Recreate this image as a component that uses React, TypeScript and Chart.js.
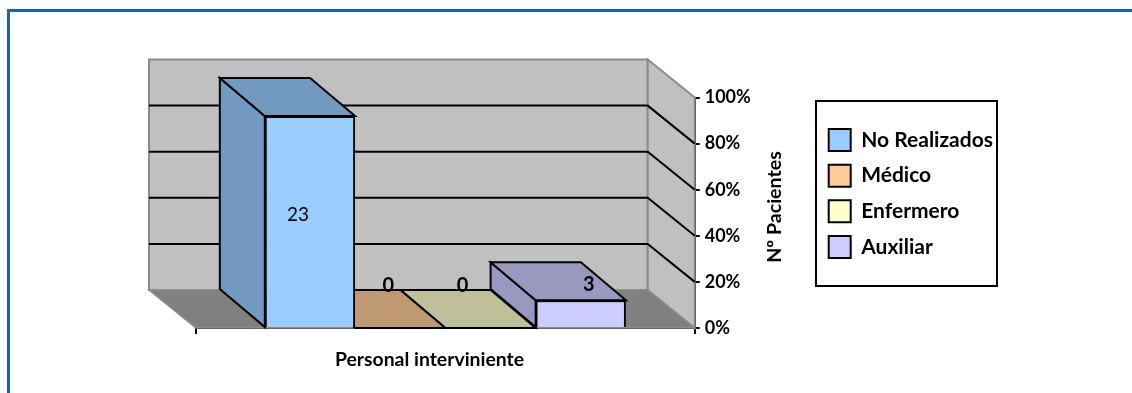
import React, { useEffect, useRef } from "react";
import { Chart, registerables } from "chart.js";

Chart.register(...registerables);

const categories = ["Personal interviniente"];
const seriesNames = ["No Realizados", "Médico", "Enfermero", "Auxiliar"];
const seriesValues = [23, 0, 0, 3];
const frontColors = ["#99CCFF", "#FFCC99", "#FFFFCC", "#CCCCFF"];
const shadeColors = ["#7299BF", "#BF9972", "#BFBF99", "#9999BF"];
const percentTicks = ["0%", "20%", "40%", "60%", "80%", "100%"];
const valueAxisTitle = "Nº Pacientes";

const FONT = "Lato, Carlito, sans-serif";

// Projection of the 3D box: how far the back plane sits from the front plane.
const WALL_DX = 47;
const WALL_DY = 38;
const BAR_DX = 45;

const poly = (
  ctx: CanvasRenderingContext2D,
  pts: number[][],
  fill: string | null,
  stroke: string | null,
  width = 2
) => {
  ctx.beginPath();
  pts.forEach(([x, y], i) => (i ? ctx.lineTo(x, y) : ctx.moveTo(x, y)));
  ctx.closePath();
  if (fill) {
    ctx.fillStyle = fill;
    ctx.fill();
  }
  if (stroke) {
    ctx.strokeStyle = stroke;
    ctx.lineWidth = width;
    ctx.lineJoin = "miter";
    ctx.stroke();
  }
};

// Back wall, side wall, floor and their gridlines, behind everything else.
const wallsPlugin = {
  id: "walls",
  beforeDatasetsDraw(chart: any) {
    const { ctx, chartArea: a, scales } = chart;
    const y = scales.y;
    const { left: l, right: r, top: t, bottom: b } = a;
    const dx = WALL_DX;
    const dy = WALL_DY;
    ctx.save();
    poly(ctx, [[l - dx, t - dy], [r - dx, t - dy], [r - dx, b - dy], [l - dx, b - dy]], "#C0C0C0", "#8C8C8C", 2);
    poly(ctx, [[r - dx, t - dy], [r, t], [r, b], [r - dx, b - dy]], "#C0C0C0", "#8C8C8C", 2);
    poly(ctx, [[l - dx, b - dy], [r - dx, b - dy], [r, b], [l, b]], "#808080", "#8C8C8C", 1.5);
    ctx.strokeStyle = "#000000";
    ctx.lineWidth = 2;
    y.ticks.forEach((tick: any) => {
      if (tick.value === y.min || tick.value === y.max) return;
      const p = y.getPixelForValue(tick.value);
      ctx.beginPath();
      ctx.moveTo(l - dx, p - dy);
      ctx.lineTo(r - dx, p - dy);
      ctx.lineTo(r, p);
      ctx.stroke();
    });
    ctx.restore();
  },
};

// Top and left faces of each bar, painted just before its front face.
const barFacesPlugin = {
  id: "barFaces",
  beforeDatasetDraw(chart: any, args: any) {
    const { ctx } = chart;
    const i = args.index;
    const bar = args.meta.data[0];
    const half = bar.width / 2;
    const x0 = bar.x - half;
    const x1 = bar.x + half;
    const top = bar.y;
    const base = bar.base;
    const dx = BAR_DX;
    const dy = WALL_DY;
    ctx.save();
    if (base - top > 0.5) {
      poly(ctx, [[x0 - dx, top - dy], [x0, top], [x0, base], [x0 - dx, base - dy]], shadeColors[i], "#000000");
    }
    poly(ctx, [[x0 - dx, top - dy], [x1 - dx, top - dy], [x1, top], [x0, top]], shadeColors[i], "#000000");
    ctx.restore();
  },
};

// Value labels, axis titles and the frame around the legend.
const labelShift = [
  { dx: -12, dy: -7, weight: "400", size: 19 },
  { dx: -12, dy: -42, weight: "700", size: 20 },
  { dx: -28, dy: -42, weight: "700", size: 20 },
  { dx: 8, dy: -29, weight: "700", size: 20 },
];

const annotationsPlugin = {
  id: "annotations",
  afterLayout(chart: any) {
    const legend = chart.legend;
    legend.left = 815;
    legend.right = 1000;
    legend.top = 101;
    legend.bottom = 286;
  },
  afterDatasetsDraw(chart: any) {
    const { ctx } = chart;
    ctx.save();
    ctx.fillStyle = "#000000";
    ctx.textAlign = "center";
    ctx.textBaseline = "middle";
    seriesValues.forEach((v, i) => {
      const bar = chart.getDatasetMeta(i).data[0];
      const s = labelShift[i];
      ctx.font = `${s.weight} ${s.size}px ${FONT}`;
      ctx.fillText(String(v), bar.x + s.dx, (bar.y + bar.base) / 2 + s.dy);
    });

    ctx.font = `700 19.4px ${FONT}`;
    ctx.fillText(categories[0], 429.5, 360);
    ctx.translate(775, 207);
    ctx.rotate(-Math.PI / 2);
    ctx.font = `700 19.6px ${FONT}`;
    ctx.fillText(valueAxisTitle, 0, 0);
    ctx.setTransform(1, 0, 0, 1, 0, 0);

    ctx.strokeStyle = "#000000";
    ctx.lineWidth = 2;
    ctx.strokeRect(816, 101, 181, 185);
    ctx.restore();
  },
};

export default function App() {
  const ref = useRef<HTMLCanvasElement>(null);

  useEffect(() => {
    const chart = new Chart(ref.current as HTMLCanvasElement, {
      type: "bar",
      data: {
        labels: categories,
        datasets: seriesNames.map((name, i) => ({
          label: name,
          data: [seriesValues[i]],
          backgroundColor: frontColors[i],
          borderColor: "#000000",
          borderWidth: 2,
          categoryPercentage: 0.724,
          barPercentage: 1,
        })),
      },
      options: {
        responsive: false,
        animation: false,
        layout: { padding: { left: 196, top: 97.5, right: 189.6, bottom: 59 } },
        plugins: {
          tooltip: { enabled: false },
          legend: {
            position: "right",
            align: "center",
            labels: {
              color: "#000000",
              boxWidth: 22,
              boxHeight: 22,
              padding: 13.7,
              font: { family: FONT, size: 21, weight: "700" },
            },
          },
        },
        scales: {
          x: {
            grid: { drawOnChartArea: false, drawTicks: true, tickLength: 6, color: "#000000", lineWidth: 2 },
            border: { color: "#000000", width: 2 },
            ticks: { display: false },
          },
          y: {
            position: "right",
            min: 0,
            max: 25,
            grid: { drawOnChartArea: false, drawTicks: true, tickLength: 5, color: "#000000", lineWidth: 2 },
            border: { color: "#000000", width: 2 },
            ticks: {
              stepSize: 5,
              color: "#000000",
              padding: 5,
              font: { family: FONT, size: 18, weight: "700" },
              callback: (_v: any, index: number) => percentTicks[index],
            },
          },
        },
      },
      plugins: [wallsPlugin, barFacesPlugin, annotationsPlugin],
    } as any);
    return () => chart.destroy();
  }, []);

  return (
    <div style={{ position: "absolute", left: 0, top: 0, width: 1132, height: 393, overflow: "hidden", background: "#fff" }}>
      <canvas ref={ref} width={1132} height={393} style={{ position: "absolute", left: 0, top: 0 }} />
      <div
        style={{
          position: "absolute",
          left: 7,
          top: 9,
          right: 0,
          bottom: -10,
          borderTop: "3px solid #2362A8",
          borderLeft: "3px solid #2362A8",
          pointerEvents: "none",
        }}
      />
    </div>
  );
}
